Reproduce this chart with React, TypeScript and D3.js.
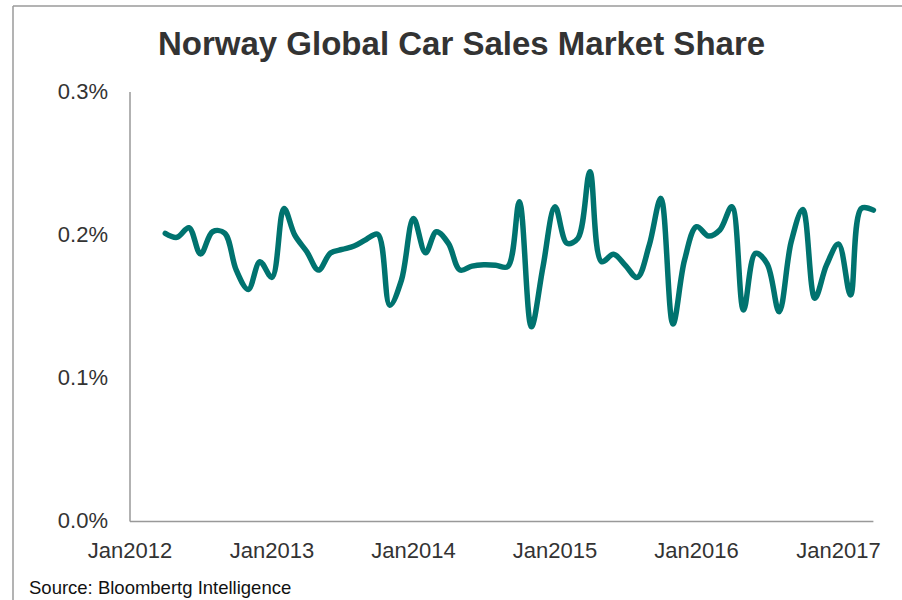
import React from "react";
import * as d3 from "d3";

const title = "Norway Global Car Sales Market Share";
const source = "Source: Bloombertg Intelligence";

// Monthly market share (%) from Apr 2012 to Apr 2017
const startMonth = "2012-04";
const shareValues: number[] = [
  // 2012 Apr-Dec
  0.2013, 0.1985, 0.2052, 0.1868, 0.2024, 0.2015, 0.1756, 0.1621, 0.1814,
  // 2013
  0.1705, 0.2187, 0.2, 0.1884, 0.1756, 0.1875, 0.19, 0.1924, 0.197, 0.2006, 0.151, 0.1686,
  // 2014
  0.2117, 0.1877, 0.2024, 0.1943, 0.1756, 0.1784, 0.1793, 0.179, 0.178, 0.2233, 0.136, 0.178,
  // 2015
  0.2198, 0.1943, 0.1978, 0.2443, 0.1815, 0.1866, 0.179, 0.1705, 0.193, 0.2257, 0.1379, 0.1826,
  // 2016
  0.2059, 0.1994, 0.2036, 0.2198, 0.1477, 0.1873, 0.18, 0.1465, 0.1954, 0.218, 0.1559, 0.179,
  // 2017 Jan-Apr
  0.1938, 0.1582, 0.2187, 0.2175,
];

const yTicks = [0, 0.1, 0.2, 0.3];
const xTickLabels = ["Jan2012", "Jan2013", "Jan2014", "Jan2015", "Jan2016", "Jan2017"];

const W = 902;
const H = 600;

export default function App() {
  const parse = d3.timeParse("%Y-%m");
  const start = parse(startMonth) as Date;
  const data = shareValues.map((v, i) => ({ date: d3.timeMonth.offset(start, i), value: v }));

  const x = d3
    .scaleTime()
    .domain([new Date(2012, 0, 1), new Date(2017, 3, 1)])
    .range([130, 130 + 63 * 11.8]);
  const y = d3.scaleLinear().domain([0, 0.3]).range([521.5, 92]);

  const line = d3
    .line<{ date: Date; value: number }>()
    .x((d) => x(d.date))
    .y((d) => y(d.value))
    .curve(d3.curveCatmullRom.alpha(0.5));

  const xTicks = xTickLabels.map((lab) => ({
    label: lab,
    date: new Date(+lab.slice(3), 0, 1),
  }));

  const font = "'Liberation Sans', Arial, sans-serif";

  return (
    <svg
      width={W}
      height={H}
      style={{ position: "absolute", left: 0, top: 0, background: "#fff" }}
    >
      <rect x={0} y={0} width={W} height={H} fill="#fff" />
      {/* outer border */}
      <line x1={13} y1={6} x2={W} y2={6} stroke="#9a9a9a" strokeWidth={1.5} />
      <line x1={13} y1={6} x2={13} y2={H} stroke="#9a9a9a" strokeWidth={1.5} />

      <text
        x={158}
        y={55}
        fontFamily={font}
        fontWeight="bold"
        fontSize={33}
        fill="#333333"
      >
        {title}
      </text>

      {/* axes */}
      <line x1={130} y1={y(0.3)} x2={130} y2={y(0)} stroke="#999" strokeWidth={1.5} />
      <line x1={130} y1={y(0)} x2={x(new Date(2017, 3, 1))} y2={y(0)} stroke="#999" strokeWidth={1.5} />

      {yTicks.map((t) => (
        <text
          key={t}
          x={108}
          y={y(t) + 6.5}
          textAnchor="end"
          fontFamily={font}
          fontSize={22}
          fill="#333"
        >
          {t.toFixed(1) + "%"}
        </text>
      ))}

      {xTicks.map((t) => (
        <text
          key={t.label}
          x={x(t.date)}
          y={558}
          textAnchor="middle"
          fontFamily={font}
          fontSize={22}
          fill="#333"
        >
          {t.label}
        </text>
      ))}

      <path
        d={line(data) || ""}
        fill="none"
        stroke="#00736F"
        strokeWidth={5.5}
        strokeLinecap="round"
        strokeLinejoin="round"
      />

      <text x={29} y={594} fontFamily={font} fontSize={18.5} fill="#111">
        {source}
      </text>
    </svg>
  );
}
